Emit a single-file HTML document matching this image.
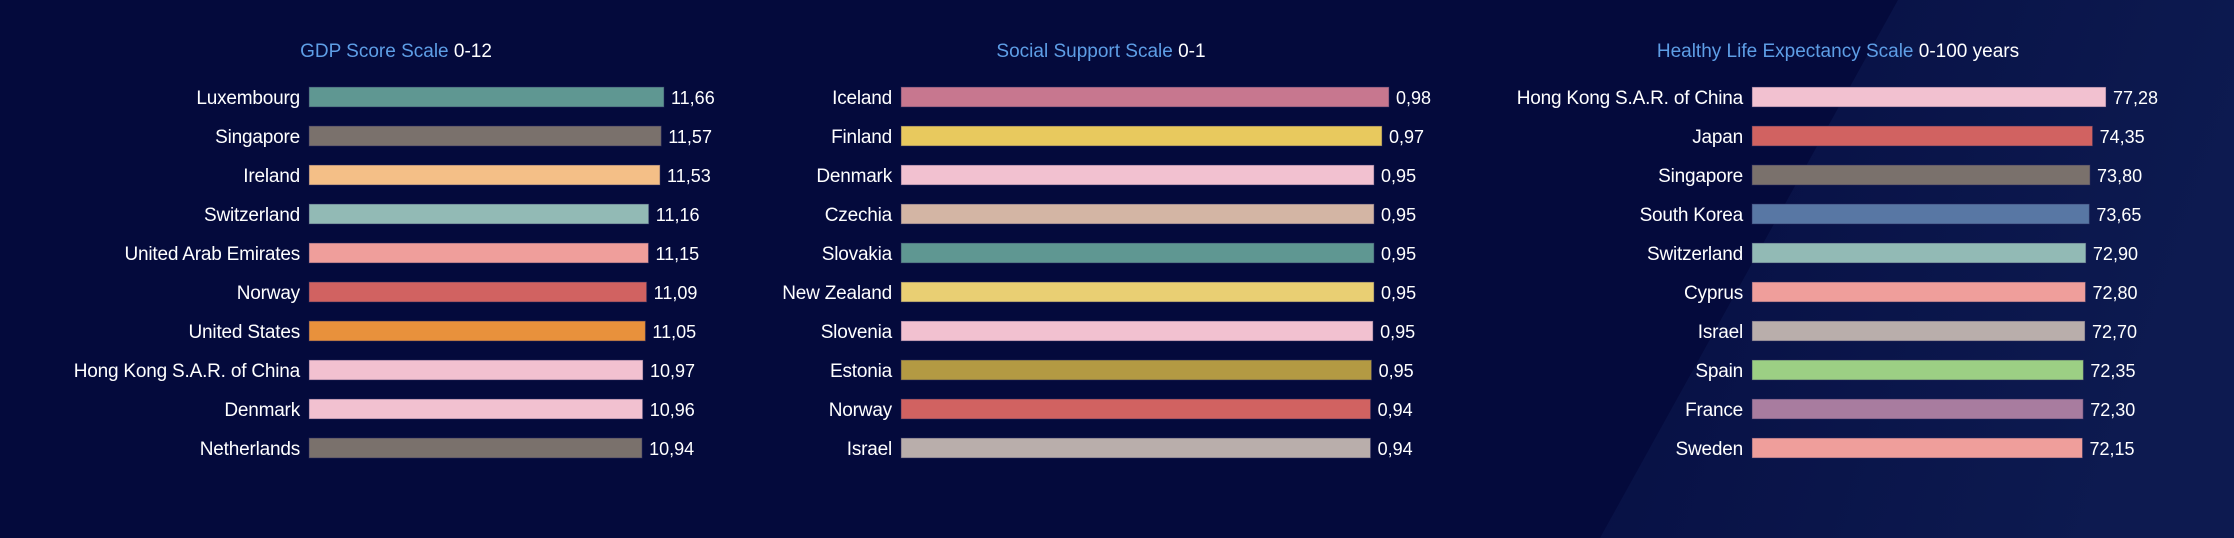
<!DOCTYPE html>
<html><head><meta charset="utf-8"><style>
html,body{margin:0;padding:0;width:2234px;height:538px;overflow:hidden;background:#040a3c;}
svg{display:block;font-family:"Liberation Sans",sans-serif;}
</style></head><body>
<svg id="chart" width="2234" height="538" xmlns="http://www.w3.org/2000/svg">
<defs><linearGradient id="bgg" x1="0" y1="0" x2="1" y2="0.3">
<stop offset="0" stop-color="#060e42"/><stop offset="1" stop-color="#0d1a50"/></linearGradient></defs>
<rect width="2234" height="538" fill="#040a3c"/>
<polygon points="1898,0 2234,0 2234,538 1600,538" fill="url(#bgg)"/>
</svg>
<script>
const gdpCountries=["Luxembourg","Singapore","Ireland","Switzerland","United Arab Emirates","Norway","United States","Hong Kong S.A.R. of China","Denmark","Netherlands"];
const gdpValues=[11.66,11.57,11.53,11.16,11.15,11.09,11.05,10.97,10.96,10.94];
const gdpLabels=["11,66","11,57","11,53","11,16","11,15","11,09","11,05","10,97","10,96","10,94"];
const gdpColors=["#5f9792","#7a716c","#f4bf87","#92bab5","#ef9e9b","#d16261","#e8913c","#f2c1d0","#f2c1d0","#7a716c"];
const socCountries=["Iceland","Finland","Denmark","Czechia","Slovakia","New Zealand","Slovenia","Estonia","Norway","Israel"];
const socValues=[0.98,0.966,0.950,0.950,0.950,0.950,0.948,0.945,0.943,0.943];
const socLabels=["0,98","0,97","0,95","0,95","0,95","0,95","0,95","0,95","0,94","0,94"];
const socColors=["#c7778f","#e8c95e","#f2c1d0","#d3b5a4","#5f9792","#e9cf73","#f2c1d0","#b39a43","#d16261","#b9aeab"];
const hleCountries=["Hong Kong S.A.R. of China","Japan","Singapore","South Korea","Switzerland","Cyprus","Israel","Spain","France","Sweden"];
const hleValues=[77.28,74.35,73.80,73.65,72.90,72.80,72.70,72.35,72.30,72.15];
const hleLabels=["77,28","74,35","73,80","73,65","72,90","72,80","72,70","72,35","72,30","72,15"];
const hleColors=["#f2c1d0","#d16261","#7a716c","#5877a4","#92bab5","#ef9e9b","#b9aeab","#9ccf84","#a87c9f","#ef9e9b"];

const NS="http://www.w3.org/2000/svg";
const svg=document.getElementById('chart');
function mk(tag,attrs,parent){const e=document.createElementNS(NS,tag);for(const k in attrs)e.setAttribute(k,attrs[k]);(parent||svg).appendChild(e);return e;}

function panel(key,title,scaleTxt,titleX,x0,pxPerUnit,cats,vals,labs,cols){
  const g=mk('g',{});
  
  
  const t=mk('text',{x:titleX,y:57,'text-anchor':'middle','font-size':19},g);
  
  
  const s1=mk('tspan',{fill:'#5e9ee6'},t);s1.textContent=title+' ';
  const s2=mk('tspan',{fill:'#ffffff'},t);s2.textContent=scaleTxt;
  const xs=v=>v*pxPerUnit;
  const ys=i=>97+i*39;
  cats.forEach((c,i)=>{
    const cy=ys(i);
    const lab=mk('text',{x:x0-9,y:cy+7,'text-anchor':'end','font-size':19,fill:'#ffffff','letter-spacing':'-0.2'},g);
    lab.textContent=c;
    
    
    const w=xs(vals[i]);
    const r=mk('rect',{x:x0,y:cy-10,width:w,height:20,fill:cols[i],stroke:'rgba(40,40,90,0.5)','stroke-width':1},g);
    
    
    const v=mk('text',{x:x0+w+7,y:cy+7,'font-size':18,fill:'#ffffff'},g);
    v.textContent=labs[i];
    
    
  });
}
panel('gdp','GDP Score Scale','0-12',396,309,355/11.66,gdpCountries,gdpValues,gdpLabels,gdpColors);
panel('social-support','Social Support Scale','0-1',1101,901,488/0.98,socCountries,socValues,socLabels,socColors);
panel('healthy-life','Healthy Life Expectancy Scale','0-100 years',1838,1752,354/77.28,hleCountries,hleValues,hleLabels,hleColors);
</script>
</body></html>
